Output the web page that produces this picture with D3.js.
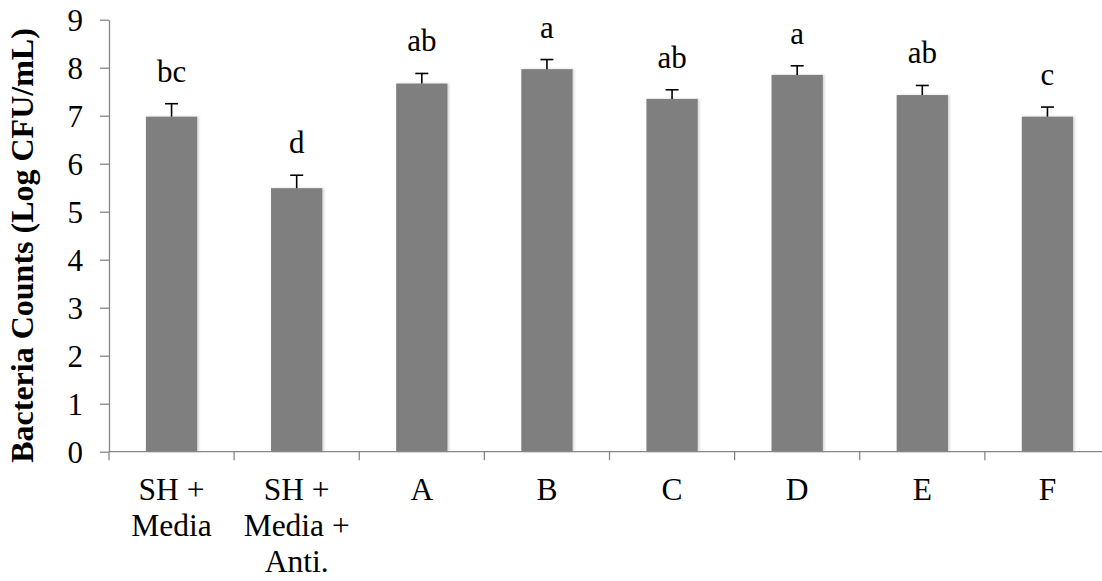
<!DOCTYPE html>
<html>
<head>
<meta charset="utf-8">
<script src="https://cdn.jsdelivr.net/npm/d3@7"></script>
<style>
  html, body { margin: 0; padding: 0; background: #fff; }
  svg { display: block; }
  text { font-family: "Liberation Serif", "Times New Roman", serif; fill: #000; }
</style>
</head>
<body>
<svg id="chart" width="1102" height="581"></svg>
<script>
// Treatment groups (each label split into its printed lines)
const categories = [
  ["SH +", "Media"],
  ["SH +", "Media +", "Anti."],
  ["A"], ["B"], ["C"], ["D"], ["E"], ["F"]
];
// Mean bacteria counts (Log CFU/mL)
const counts = [6.98, 5.49, 7.67, 7.97, 7.35, 7.85, 7.43, 6.98];
// Upper error (standard deviation)
const errors = [0.27, 0.27, 0.21, 0.20, 0.19, 0.19, 0.20, 0.20];
// Significance letters
const letters = ["bc", "d", "ab", "a", "ab", "a", "ab", "c"];
// Y axis ticks
const yTicks = [0, 1, 2, 3, 4, 5, 6, 7, 8, 9];

const svg = d3.select("#chart");
const axisColor = "#878787";

const plotLeft = 109, plotRight = 1110, plotTop = 19.7, plotBottom = 451.7;
const keys = categories.map((c, i) => i);

const x = d3.scaleBand()
  .domain(keys)
  .range([plotLeft, plotRight])
  .paddingInner(0.59)
  .paddingOuter(0.295);

const y = d3.scaleLinear().domain([0, 9]).range([plotBottom, plotTop]);

// Soft shadow under bars
const defs = svg.append("defs");
const f = defs.append("filter").attr("id", "shadow")
  .attr("x", "-20%").attr("y", "-10%").attr("width", "140%").attr("height", "120%");
f.append("feDropShadow").attr("dx", 1.5).attr("dy", 0).attr("stdDeviation", 1.2)
  .attr("flood-color", "#000").attr("flood-opacity", 0.18);

// Bars
svg.append("g").selectAll("rect")
  .data(counts)
  .join("rect")
  .attr("x", (d, i) => x(i))
  .attr("y", d => y(d))
  .attr("width", x.bandwidth())
  .attr("height", d => y(0) - y(d))
  .attr("fill", "#7f7f7f")
  .attr("filter", "url(#shadow)");

// Error bars (upper only)
const capHalf = 6.5;
const eb = svg.append("g").attr("stroke", "#000").attr("stroke-width", 1.6);
counts.forEach((v, i) => {
  const cx = x(i) + x.bandwidth() / 2;
  eb.append("line")
    .attr("x1", cx).attr("x2", cx)
    .attr("y1", y(v)).attr("y2", y(v + errors[i]));
  eb.append("line")
    .attr("x1", cx - capHalf).attr("x2", cx + capHalf)
    .attr("y1", y(v + errors[i])).attr("y2", y(v + errors[i]));
});

// Significance letters above the error bars
svg.append("g").selectAll("text")
  .data(letters)
  .join("text")
  .attr("x", (d, i) => x(i) + x.bandwidth() / 2)
  .attr("y", (d, i) => y(counts[i] + errors[i]) - 22)
  .attr("text-anchor", "middle")
  .attr("font-size", 31)
  .text(d => d);

// Y axis
const yAxis = svg.append("g")
  .attr("transform", `translate(${plotLeft},0)`)
  .call(d3.axisLeft(y).tickValues(yTicks).tickFormat(d3.format("d"))
    .tickSize(9).tickSizeOuter(0).tickPadding(17));
yAxis.select(".domain").attr("stroke", axisColor).attr("stroke-width", 1.3);
yAxis.selectAll(".tick line").attr("stroke", axisColor).attr("stroke-width", 1.3);
yAxis.selectAll(".tick text")
  .attr("font-size", 31)
  .attr("font-family", "Liberation Serif, serif")
  .attr("fill", "#000")
  .attr("dy", "0.34em");

// X axis baseline and category boundary ticks
const xg = svg.append("g");
xg.append("line")
  .attr("x1", plotLeft).attr("x2", plotRight)
  .attr("y1", y(0)).attr("y2", y(0))
  .attr("stroke", axisColor).attr("stroke-width", 1.3);
const boundaries = keys.map(i => x(i) - (x.step() - x.bandwidth()) / 2).concat([plotRight]);
xg.selectAll("line.b")
  .data(boundaries)
  .join("line")
  .attr("class", "b")
  .attr("x1", d => d).attr("x2", d => d)
  .attr("y1", y(0)).attr("y2", y(0) + 8.5)
  .attr("stroke", axisColor).attr("stroke-width", 1.3);

// Category labels
const labels = xg.selectAll("text.cat")
  .data(categories)
  .join("text")
  .attr("class", "cat")
  .attr("text-anchor", "middle")
  .attr("font-size", 31.5)
  .attr("x", (d, i) => x(i) + x.bandwidth() / 2)
  .attr("y", 500);
labels.selectAll("tspan")
  .data(d => d)
  .join("tspan")
  .attr("x", function () { return this.parentNode.getAttribute("x"); })
  .attr("dy", (d, j) => j === 0 ? 0 : 36)
  .text(d => d);

// Y axis title
svg.append("text")
  .attr("transform", `translate(33,${(28 + 463) / 2}) rotate(-90)`)
  .attr("text-anchor", "middle")
  .attr("font-size", 32)
  .attr("font-weight", "bold")
  .text("Bacteria Counts (Log CFU/mL)");
</script>
</body>
</html>
